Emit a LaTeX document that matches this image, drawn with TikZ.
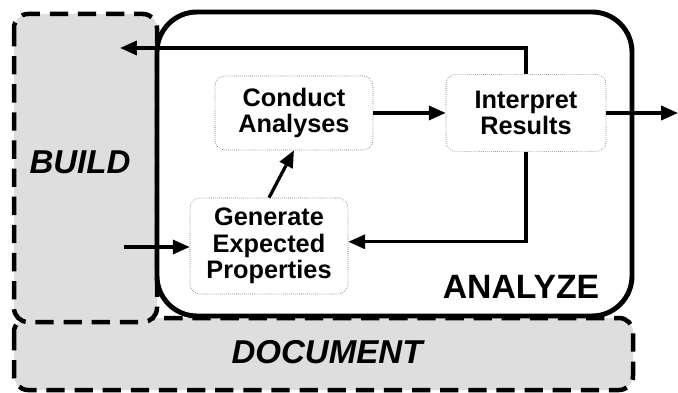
\documentclass[tikz,border=0pt]{standalone}
\usepackage{fontspec}
\setsansfont{Liberation Sans}
\usetikzlibrary{arrows.meta}
\tikzset{
  region/.style={fill=black!13, draw, line width=3.2pt, dash pattern=on 13pt off 7pt, rounded corners=0.35cm},
  box/.style={draw=black!70, densely dotted, thin, rounded corners=0.25cm, fill=white, align=center,
    font=\sffamily\bfseries\fontsize{18}{19}\selectfont},
  link/.style={line width=2.3pt, -{Triangle[length=12pt, width=10pt]}},
  biglabel/.style={font=\sffamily\bfseries\fontsize{24}{28}\selectfont}
}
\begin{document}
\begin{tikzpicture}[x=0.025cm, y=-0.025cm]
  \useasboundingbox (0, 0) rectangle (678, 393);
  % shaded regions
  \draw [region] (14, 318) rectangle (633, 390);
  \draw [region] (14, 14) rectangle (157, 322);
  \draw [line width=3.5pt, fill=white, rounded corners=1cm] (157, 12) rectangle (632, 316);
  \node [font=\sffamily\bfseries\itshape\fontsize{23.5}{28}\selectfont] (build) at (80, 162) {BUILD};
  \node [font=\sffamily\bfseries\itshape\fontsize{23.5}{28}\selectfont] (document) at (327, 352) {DOCUMENT};
  \node [biglabel] (analyze) at (521, 287) {ANALYZE};
  % steps
  \node [box, minimum width=3.95cm, minimum height=1.85cm] (conduct) at (294, 113) {Conduct\\Analyses};
  \node [box, minimum width=4cm, minimum height=1.93cm] (interpret) at (526, 113) {Interpret\\Results};
  \node [box, minimum width=3.95cm, minimum height=2.4cm] (generate) at (269, 246) {Generate\\Expected\\Properties};
  \coordinate (fb) at (120, 48);
  \coordinate (in) at (124, 247);
  \coordinate (out) at (678, 113);
  % connectors
  \draw [link] (generate.north) -- (conduct.south);
  \draw [link] (conduct.east) -- (interpret.west);
  \draw [link] (interpret.east) -- (out);
  \draw [link] (interpret.north) |- (fb);
  \draw [link] (interpret.south) |- ([yshift=3pt]generate.east);
  \draw [link] (in) -- (in -| generate.west);
\end{tikzpicture}
\end{document}
